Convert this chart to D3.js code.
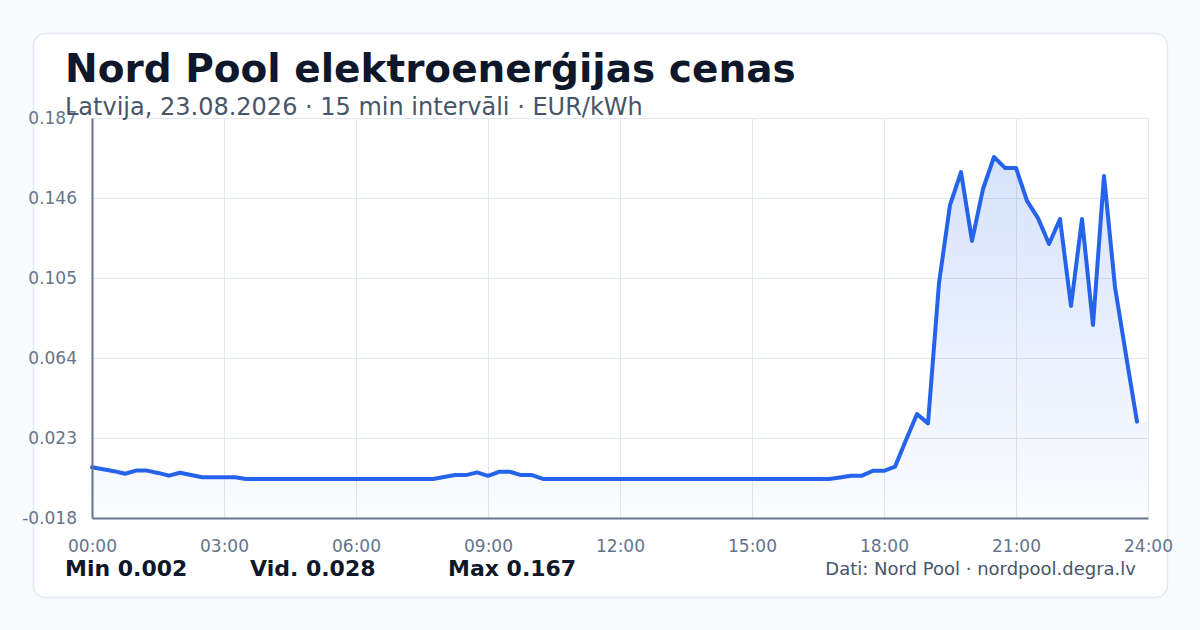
<!DOCTYPE html>
<html>
<head>
<meta charset="utf-8">
<script src="https://cdn.jsdelivr.net/npm/d3@7"></script>
<style>
  html, body { margin: 0; padding: 0; background: #f8fafc; }
  body { width: 1200px; height: 630px; overflow: hidden; font-family: "DejaVu Sans", sans-serif; }
</style>
</head>
<body>
<div class="main_content"></div>
<script>
// 15 min prices, EUR/kWh, 00:00 .. 23:45
const prices = [
    0.0080, 0.0070, 0.0060, 0.0047, 0.0063, 0.0063, 0.0051, 0.0037,
    0.0052, 0.0040, 0.0029, 0.0029, 0.0029, 0.0029, 0.0020, 0.0020,
    0.0020, 0.0020, 0.0020, 0.0020, 0.0020, 0.0020, 0.0020, 0.0020,
    0.0020, 0.0020, 0.0020, 0.0020, 0.0020, 0.0020, 0.0020, 0.0020,
    0.0030, 0.0040, 0.0040, 0.0054, 0.0036, 0.0057, 0.0057, 0.0040,
    0.0040, 0.0020, 0.0020, 0.0020, 0.0020, 0.0020, 0.0020, 0.0020,
    0.0020, 0.0020, 0.0020, 0.0020, 0.0020, 0.0020, 0.0020, 0.0020,
    0.0020, 0.0020, 0.0020, 0.0020, 0.0020, 0.0020, 0.0020, 0.0020,
    0.0020, 0.0020, 0.0020, 0.0020, 0.0028, 0.0037, 0.0037, 0.0062,
    0.0062, 0.0083, 0.0220, 0.0353, 0.0305, 0.1024, 0.1424, 0.1593,
    0.1240, 0.1506, 0.1670, 0.1614, 0.1614, 0.1445, 0.1357, 0.1224,
    0.1352, 0.0906, 0.1352, 0.0809, 0.1573, 0.1004, 0.0655, 0.0314
];
const yTicks = [-0.018, 0.023, 0.064, 0.105, 0.146, 0.187];
const xTicks = [0, 3, 6, 9, 12, 15, 18, 21, 24];
const title = 'Nord Pool elektroenerģijas cenas';
const subtitle = 'Latvija, 23.08.2026 · 15 min intervāli · EUR/kWh';
const source = 'Dati: Nord Pool · nordpool.degra.lv';

const width = 1200, height = 630;
const margin = {top: 118, right: 52, bottom: 112, left: 92};

let svg = d3.select('.main_content')
    .append('svg')
    .attr('width', width)
    .attr('height', height);

// Card
svg.append('rect')
    .attr('x', 33.5).attr('y', 33.5)
    .attr('width', 1134).attr('height', 564)
    .attr('rx', 12)
    .style('fill', '#ffffff')
    .style('stroke', '#e2e8f0')
    .style('stroke-width', 1.5);

let x = d3.scaleLinear().domain([0, 24]).range([margin.left, width - margin.right]);
let y = d3.scaleLinear().domain([yTicks[0], yTicks[yTicks.length - 1]])
    .range([height - margin.bottom, margin.top]);

// points: hour of day -> price
let points = prices.map((p, i) => ({h: i / 4, p: p}));
let areaPoints = points.concat([{h: 24, p: prices[prices.length - 1]}]);

// Grid
svg.append('g').selectAll('line.h')
    .data(yTicks).join('line')
    .attr('x1', x(0)).attr('x2', x(24))
    .attr('y1', d => y(d) + 0.5).attr('y2', d => y(d) + 0.5)
    .style('stroke', '#e2e8f0').style('stroke-width', 1);
svg.append('g').selectAll('line.v')
    .data(xTicks).join('line')
    .attr('x1', d => x(d) + 0.5).attr('x2', d => x(d) + 0.5)
    .attr('y1', y.range()[1]).attr('y2', y.range()[0])
    .style('stroke', '#e2e8f0').style('stroke-width', 1);

// Area gradient
let grad = svg.append('defs').append('linearGradient')
    .attr('id', 'fillGrad')
    .attr('gradientUnits', 'userSpaceOnUse')
    .attr('x1', 0).attr('x2', 0)
    .attr('y1', y.range()[1]).attr('y2', y.range()[0]);
grad.append('stop').attr('offset', '0%').attr('stop-color', '#2563eb').attr('stop-opacity', 0.2);
grad.append('stop').attr('offset', '100%').attr('stop-color', '#2563eb').attr('stop-opacity', 0.02);

svg.append('path')
    .datum(areaPoints)
    .attr('d', d3.area().x(d => x(d.h)).y0(y(yTicks[0])).y1(d => y(d.p)))
    .style('fill', 'url(#fillGrad)');

svg.append('path')
    .datum(points)
    .attr('d', d3.line().x(d => x(d.h)).y(d => y(d.p)))
    .style('fill', 'none')
    .style('stroke', '#2563eb')
    .style('stroke-width', 4)
    .style('stroke-linejoin', 'round')
    .style('stroke-linecap', 'round');

// Axes
let yAxis = svg.append('g')
    .attr('transform', `translate(${margin.left},0)`)
    .call(d3.axisLeft(y).tickValues(yTicks).tickSize(0).tickPadding(15)
        .tickFormat(d => d.toFixed(3)));
let xAxis = svg.append('g')
    .attr('transform', `translate(0,${height - margin.bottom})`)
    .call(d3.axisBottom(x).tickValues(xTicks).tickSize(0).tickPadding(22)
        .tickFormat(d => String(d).padStart(2, '0') + ':00'));

[yAxis, xAxis].forEach(ax => {
    ax.select('.domain').style('stroke', '#64748b').style('stroke-width', 2);
    ax.selectAll('text')
        .style('font-family', '"DejaVu Sans", sans-serif')
        .style('font-size', '17px')
        .style('fill', '#64748b');
});

// Titles
svg.append('text')
    .attr('x', 65).attr('y', 82)
    .style('font-size', '39px').style('font-weight', 'bold')
    .style('fill', '#0f172a')
    .text(title);
svg.append('text')
    .attr('x', 65).attr('y', 115)
    .style('font-size', '24px')
    .style('fill', '#475569')
    .text(subtitle);

// Stats
let fmt = d3.format('.3f');
let stats = [
    {label: 'Min', v: d3.min(prices), x: 65},
    {label: 'Vid.', v: d3.mean(prices), x: 250},
    {label: 'Max', v: d3.max(prices), x: 448}
];
svg.append('g').selectAll('text')
    .data(stats).join('text')
    .attr('x', d => d.x).attr('y', 576)
    .style('font-size', '22px').style('font-weight', 'bold')
    .style('fill', '#0f172a')
    .text(d => `${d.label} ${fmt(d.v)}`);

svg.append('text')
    .attr('x', 1136).attr('y', 575)
    .attr('text-anchor', 'end')
    .style('font-size', '18px')
    .style('fill', '#475569')
    .text(source);
</script>
</body>
</html>
